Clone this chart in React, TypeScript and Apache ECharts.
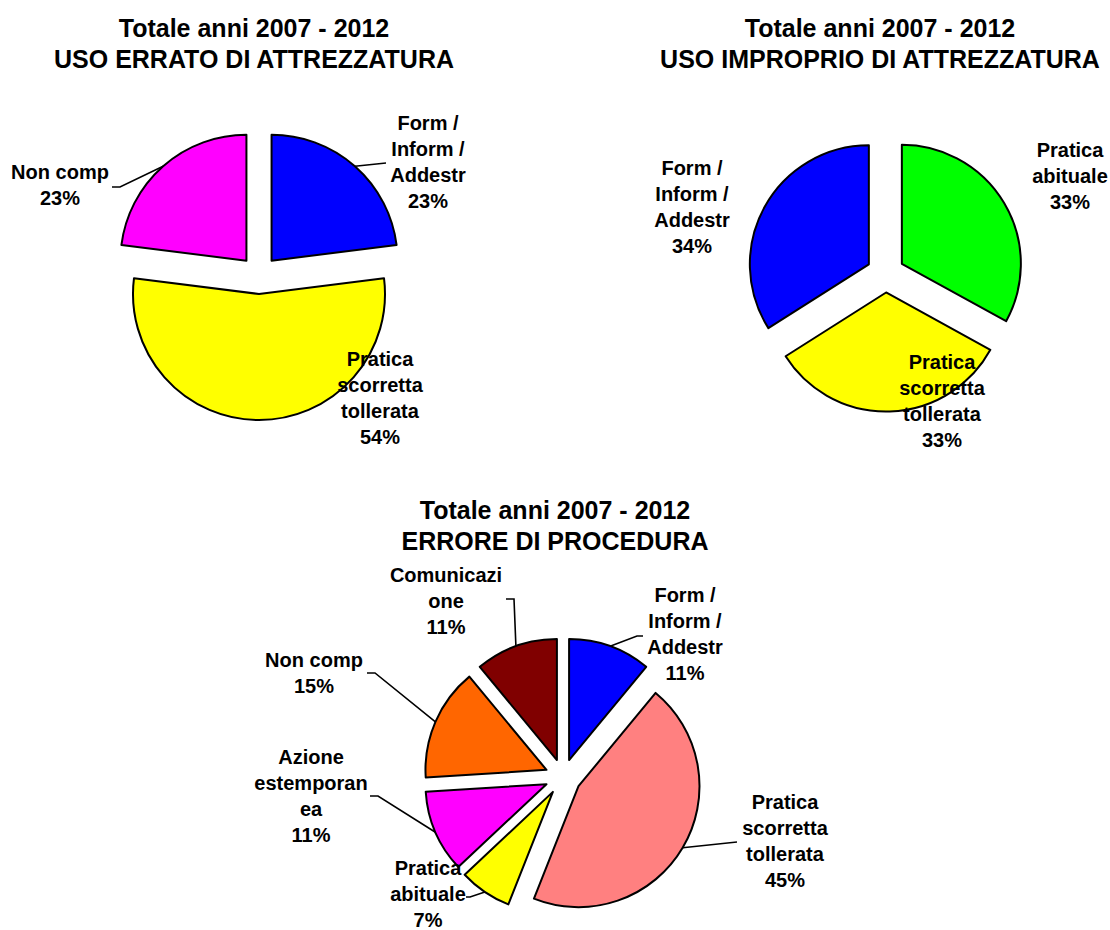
import React, { useEffect, useRef } from "react";
import * as echarts from "echarts";

// ---------- DATA ----------
const titles = [
  "Totale anni 2007 - 2012\nUSO ERRATO DI ATTREZZATURA",
  "Totale anni 2007 - 2012\nUSO IMPROPRIO DI ATTREZZATURA",
  "Totale anni 2007 - 2012\nERRORE DI PROCEDURA",
];

const erratoCats = ["Form /\nInform /\nAddestr", "Pratica\nscorretta\ntollerata", "Non comp"];
const erratoValues = [23, 54, 23];
const erratoColors = ["#0000FF", "#FFFF00", "#FF00FF"];

const improprioCats = ["Pratica\nabituale", "Pratica\nscorretta\ntollerata", "Form /\nInform /\nAddestr"];
const improprioValues = [33, 33, 34];
const improprioColors = ["#00FF00", "#FFFF00", "#0000FF"];

const proceduraCats = [
  "Form /\nInform /\nAddestr",
  "Pratica\nscorretta\ntollerata",
  "Pratica\nabituale",
  "Azione\nestemporan\nea",
  "Non comp",
  "Comunicazi\none",
];
const proceduraValues = [11, 45, 7, 11, 15, 11];
const proceduraColors = ["#0000FF", "#FF8080", "#FFFF00", "#FF00FF", "#FF6600", "#800000"];

// ---------- LAYOUT ----------
const FONT = "'Liberation Sans', Arial, sans-serif";

type PieCfg = {
  cats: string[];
  values: number[];
  colors: string[];
  cx: number;
  cy: number;
  r: number;
  explode: number;
  labelPos: number[][];
  // extra label-line points after the slice edge point (null = no line)
  linePts: (number[][] | null)[];
};

const pies: PieCfg[] = [
  {
    cats: erratoCats,
    values: erratoValues,
    colors: erratoColors,
    cx: 259,
    cy: 275,
    r: 126,
    explode: 19,
    labelPos: [[428, 162], [380, 398], [60, 185]],
    linePts: [[[386, 163], [386, 163]], null, [[120, 187], [112, 187]]],
  },
  {
    cats: improprioCats,
    values: improprioValues,
    colors: improprioColors,
    cx: 885.5,
    cy: 273.5,
    r: 119,
    explode: 19,
    labelPos: [[1070, 176], [942, 401], [692, 207]],
    linePts: [null, null, null],
  },
  {
    cats: proceduraCats,
    values: proceduraValues,
    colors: proceduraColors,
    cx: 563,
    cy: 777,
    r: 121,
    explode: 18,
    labelPos: [[685, 634], [785, 841], [428, 894], [311, 796], [314, 673], [446, 601]],
    linePts: [
      [[637, 636], [643, 636]],
      [[737, 842], [737, 842]],
      [[470, 897], [466, 897]],
      [[378, 796], [370, 796]],
      [[375, 673], [367, 673]],
      [[514, 599], [506, 599]],
    ],
  },
];

const titlePos = [
  { x: 254, y: 12 },
  { x: 880, y: 12 },
  { x: 555, y: 494 },
];

function buildSeries(): any[] {
  const series: any[] = [];
  pies.forEach((p) => {
    const total = p.values.reduce((a, b) => a + b, 0);
    let cum = 0;
    p.values.forEach((v, i) => {
      const startFrac = cum / total;
      const midFrac = (cum + v / 2) / total;
      cum += v;
      const midDeg = 90 - midFrac * 360;
      const midRad = (midDeg * Math.PI) / 180;
      const dx = Math.cos(midRad);
      const dy = -Math.sin(midRad);
      const centerX = p.cx + p.explode * dx;
      const centerY = p.cy + p.explode * dy;
      const extra = p.linePts[i];
      const lp = p.labelPos[i];
      series.push({
        type: "pie",
        center: [centerX, centerY],
        radius: p.r,
        startAngle: 90 - startFrac * 360,
        clockwise: true,
        percentPrecision: 0,
        avoidLabelOverlap: false,
        silent: true,
        minAngle: 0,
        emphasis: { disabled: true },
        label: {
          show: true,
          position: "outside",
          formatter: "{b}\n{d}%",
          color: "#000",
          fontSize: 20,
          fontWeight: "bold",
          fontFamily: FONT,
          lineHeight: 26,
          align: "center",
        },
        labelLine: {
          show: !!extra,
          lineStyle: { color: "#000", width: 1.6 },
        },
        labelLayout: (params: any) => {
          if (params.dataIndex !== 0) return {};
          const res: any = { x: lp[0], y: lp[1], align: "center", verticalAlign: "middle" };
          if (extra) {
            const start =
              params.labelLinePoints && params.labelLinePoints[0]
                ? params.labelLinePoints[0]
                : [centerX + p.r * dx, centerY + p.r * dy];
            res.labelLinePoints = [start, extra[0], extra[1]];
          }
          return res;
        },
        itemStyle: { borderColor: "#000", borderWidth: 2 },
        data: [
          { name: p.cats[i], value: v, itemStyle: { color: p.colors[i] } },
          {
            name: "",
            value: total - v,
            itemStyle: { color: "rgba(0,0,0,0)", borderWidth: 0 },
            label: { show: false },
            labelLine: { show: false },
          },
        ],
      });
    });
  });
  return series;
}

export default function App() {
  const ref = useRef<HTMLDivElement>(null);
  useEffect(() => {
    if (!ref.current) return;
    const chart = echarts.init(ref.current, null, { renderer: "svg" });
    chart.setOption({
      animation: false,
      backgroundColor: "#ffffff",
      title: titles.map((t, i) => ({
        text: t,
        left: titlePos[i].x,
        top: titlePos[i].y,
        textAlign: "center",
        padding: 0,
        textStyle: {
          fontFamily: FONT,
          fontSize: 25,
          fontWeight: "bold",
          color: "#000",
          lineHeight: 31,
        },
      })),
      series: buildSeries(),
    });
    return () => chart.dispose();
  }, []);
  return (
    <div
      ref={ref}
      style={{ position: "absolute", left: 0, top: 0, width: 1110, height: 930 }}
    />
  );
}
